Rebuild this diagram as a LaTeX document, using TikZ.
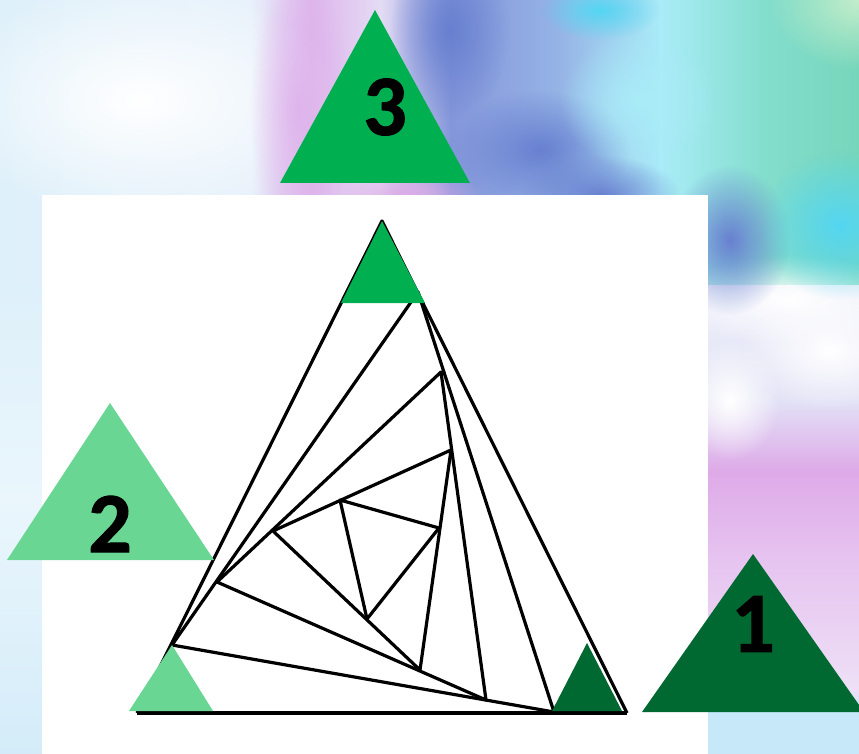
\documentclass[tikz,border=0pt]{standalone}
\usepackage{fontspec}
\newfontfamily\numfont{Carlito Bold}[FakeBold=1.2]
\usetikzlibrary{fadings}

\definecolor{greenone}{RGB}{0,104,49}
\definecolor{greentwo}{RGB}{106,214,148}
\definecolor{greenthree}{RGB}{0,176,80}
% sky colours
\definecolor{sk0}{RGB}{222,240,250}
\definecolor{sk1}{RGB}{232,242,251}
\definecolor{pk1}{RGB}{222,180,236}
\definecolor{lv1}{RGB}{228,220,244}
\definecolor{bl1}{RGB}{132,150,218}
\definecolor{bl2}{RGB}{150,180,230}
\definecolor{cy1}{RGB}{170,236,248}
\definecolor{tl1}{RGB}{132,222,206}
\definecolor{tl2}{RGB}{118,214,186}
\definecolor{cl1}{RGB}{238,240,250}
\definecolor{cl2}{RGB}{226,226,246}
\definecolor{pk2}{RGB}{222,170,232}
\definecolor{pk3}{RGB}{230,196,240}
\definecolor{pk4}{RGB}{238,224,246}
\definecolor{lb1}{RGB}{198,232,248}
\definecolor{ls2}{RGB}{234,246,252}
\definecolor{ls3}{RGB}{212,236,249}
\definecolor{bandblue}{RGB}{104,128,208}
\definecolor{cyandeep}{RGB}{84,214,242}
\definecolor{mint}{RGB}{196,238,204}

\tikzfading[name=fuzzy, inner color=transparent!0, outer color=transparent!100]

\begin{document}
\begin{tikzpicture}[x=1pt,y=-1pt,
  blob/.style={path fading=fuzzy},
  spiral/.style={line width=3.2pt,line join=round,black},
  num/.style={font=\numfont\fontsize{86}{86}\selectfont,inner sep=0pt}]
\useasboundingbox (0,0) rectangle (859,754);

% watercolour sky: top strip, right strip, left strip
\foreach \xa/\xb/\ca/\cb in {0/251/sk0/sk1, 250/311/sk1/pk1, 310/381/pk1/lv1,
  380/451/lv1/bl1, 450/561/bl1/bl2, 560/661/bl2/cy1, 660/761/cy1/tl1, 760/859/tl1/tl2}
  \shade[left color=\ca,right color=\cb] (\xa,0) rectangle (\xb,286);
\foreach \ya/\yb/\ca/\cb in {285/401/cl1/cl2,
  400/471/cl2/pk2, 470/561/pk2/pk3, 560/691/pk3/pk4, 690/713/pk4/lb1, 712/754/lb1/lb1}
  \shade[top color=\ca,bottom color=\cb] (707,\ya) rectangle (859,\yb);
\foreach \ya/\yb/\ca/\cb in {285/501/sk0/ls2, 500/754/ls2/ls3}
  \shade[top color=\ca,bottom color=\cb] (0,\ya) rectangle (43,\yb);
\fill[white,blob] (140,100) ellipse[x radius=200,y radius=120];
\fill[pk1,blob] (300,110) ellipse[x radius=50,y radius=140];
\fill[pk2,blob] (410,195) ellipse[x radius=70,y radius=30];
\fill[bandblue,blob] (450,30) ellipse[x radius=60,y radius=90];
\fill[bandblue,blob] (540,150) ellipse[x radius=90,y radius=60];
\fill[bandblue,blob] (600,195) ellipse[x radius=80,y radius=40];
\fill[cy1,blob] (640,100) ellipse[x radius=80,y radius=70];
\fill[cyandeep,blob] (600,10) ellipse[x radius=60,y radius=30];
\fill[mint,blob] (859,0) ellipse[x radius=90,y radius=70];
\fill[white,blob] (790,300) ellipse[x radius=120,y radius=45];
\fill[bandblue,blob] (730,240) ellipse[x radius=60,y radius=75];
\fill[cyandeep,blob] (840,225) ellipse[x radius=80,y radius=75];
\fill[white,blob] (830,350) ellipse[x radius=90,y radius=60];
\fill[white,blob] (730,400) ellipse[x radius=50,y radius=60];

% white sheet
\fill[white] (42,195) rectangle (708,754);

% spiral of triangles
\coordinate (p1) at (137,713); \coordinate (p2) at (627,713); \coordinate (p3) at (382,221);
\coordinate (a1) at (172,645); \coordinate (b1) at (554,712); \coordinate (c1) at (418,292);
\coordinate (a2) at (217,582); \coordinate (b2) at (486,700); \coordinate (c2) at (441,372);
\coordinate (a3) at (273,531); \coordinate (b3) at (420,670); \coordinate (c3) at (451,450);
\coordinate (a4) at (340,500); \coordinate (b4) at (367,619); \coordinate (c4) at (439,528);
\foreach \i in {1,...,4}{
  \draw[spiral] (a\i) -- (b\i) -- (c\i) -- cycle;
}
\draw[spiral] (p1) -- (p3) -- (p2);
\draw[spiral,line width=4.2pt] (p1) -- (p2);

% corner marks
\fill[greenthree] (382,221) -- (425,303) -- (341,303) -- cycle;
\fill[greentwo] (172,645) -- (213,711) -- (129,711) -- cycle;
\fill[greenone] (587,643) -- (622,711) -- (552,711) -- cycle;

% numbered triangles
\fill[greenthree] (375,10) -- (470,183) -- (280,183) -- cycle;
\fill[greentwo] (110,403) -- (214,560) -- (7,560) -- cycle;
\fill[greenone] (753,554) -- (864,712) -- (642,712) -- cycle;
\node[num] (three) at (385,107) {3};
\node[num] (two) at (110,524) {2};
\node[num] (one) at (753,624) {1};
\end{tikzpicture}
\end{document}
